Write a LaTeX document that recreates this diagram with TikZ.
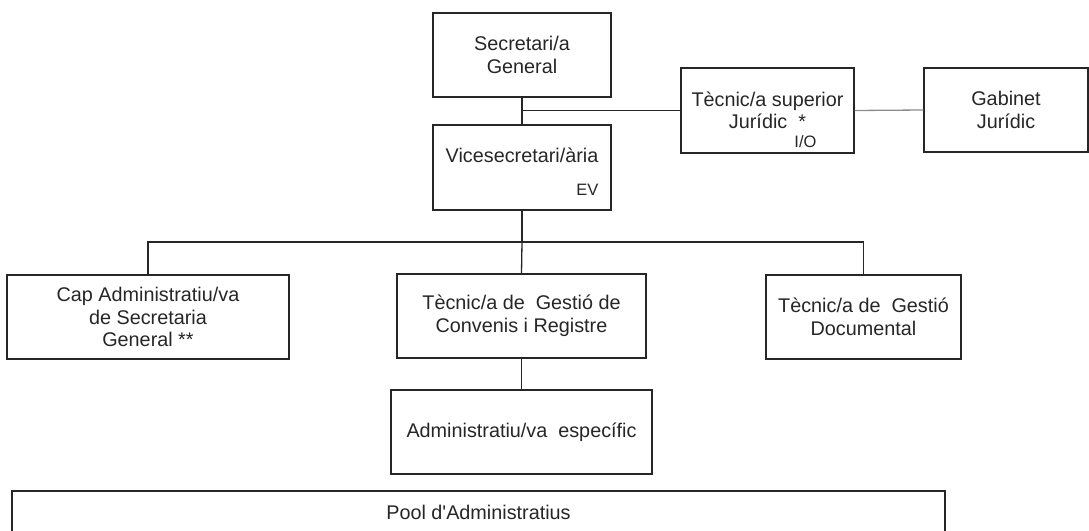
\documentclass[tikz,border=0pt]{standalone}
\usepackage{fontspec}
\setmainfont{Liberation Sans}
\usetikzlibrary{positioning}

\begin{document}
\begin{tikzpicture}[
    x=1pt, y=-1pt,
    every node/.style={font=\fontsize{19.8}{22.5}\selectfont, text=black!85},
    box/.style={rectangle, draw=black!85, line width=1.3pt, align=center, inner sep=0pt, minimum height=84},
    tag/.style={font=\fontsize{16.5}{18}\selectfont, inner sep=0pt},
    link/.style={draw=black!85, line width=1.3pt},
    thin link/.style={draw=black!45, line width=1.3pt},
]
    \useasboundingbox (0,0) rectangle (1089,530);
    \clip (0,0) rectangle (1089,530);

    \node [box, minimum width=178] (sec) at (522,55) {Secretari/a\\General};
    \node [box, minimum width=178, minimum height=85] (vice) at (522,167.5) {};
    \node (vicetext) at ([yshift=12]vice.center) {Vicesecretari/ària};
    \node [tag, anchor=base east] (ev) at ([xshift=-13, yshift=15]vice.south east) {EV};
    \node [box, minimum width=173, minimum height=85] (tsup) at (767.5,110.5) {Tècnic/a superior\\Jurídic\ \ *};
    \node [tag, anchor=base east] (io) at ([xshift=-38, yshift=6]tsup.south east) {I/O};
    \node [box, minimum width=164] (gab) at (1006,110) {Gabinet\\Jurídic};

    \node [box, minimum width=282] (cap) at (148,317) {Cap Administratiu/va\\de Secretaria\\General **};
    \node [box, minimum width=249] (conv) at (521.5,316) {Tècnic/a de\ \ Gestió de\\Convenis i Registre};
    \node [box, minimum width=195] (doc) at (863.5,317) {Tècnic/a de\ \ Gestió\\Documental};
    \node [box, minimum width=261] (admin) at (521.5,432) {Administratiu/va\ \ específic};
    \node [box, minimum width=933, minimum height=43] (pool) at (478.5,512.5) {Pool d\textquotesingle Administratius};

    \coordinate (bus) at (522,242);
    \draw [link] (sec.south) -- (vice.north);
    \draw [link] (sec.south |- tsup.west) -- (tsup.west);
    \draw [thin link] (tsup.east) -- (gab.west);
    \draw [link] (vice.south) -- (bus);
    \draw [link] (cap.north) |- (bus) -| (doc.north);
    \draw [link] (bus) -- (conv.north);
    \draw [link] (conv.south) -- (admin.north);
\end{tikzpicture}
\end{document}
